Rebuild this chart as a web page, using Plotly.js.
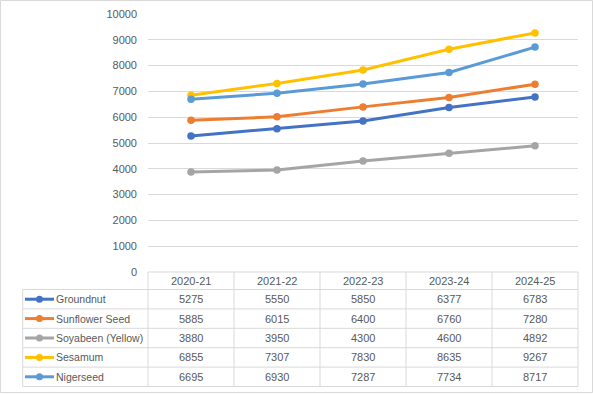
<!DOCTYPE html>
<html><head><meta charset="utf-8">
<script src="https://cdn.plot.ly/plotly-3.0.1.min.js"></script>
<style>html,body{margin:0;padding:0;background:#fff;}</style>
</head><body><div id="chart" style="width:593px;height:394px;"></div>
<script>
const years = ["2020-21","2021-22","2022-23","2023-24","2024-25"];
const seriesNames = ["Groundnut","Sunflower Seed","Soyabeen (Yellow)","Sesamum","Nigerseed"];
const groundnut = [5275,5550,5850,6377,6783];
const sunflower = [5885,6015,6400,6760,7280];
const soyabeen = [3880,3950,4300,4600,4892];
const sesamum = [6855,7307,7830,8635,9267];
const nigerseed = [6695,6930,7287,7734,8717];
const seriesValues = [groundnut,sunflower,soyabeen,sesamum,nigerseed];
const colors = ["#4472C4","#ED7D31","#A5A5A5","#FFC000","#5B9BD5"];

const W=593,H=394,L=148,R=15,T=14,B=122;
const pw=W-L-R, ph=H-T-B;
const fx=p=>(p-L)/pw, fy=p=>(H-B-p)/ph;
const FONT="Liberation Sans, Arial, sans-serif", TXT="#595959", GRID="#d9d9d9";

const traces = seriesNames.map((n,i)=>({
  type:"scatter", mode:"lines+markers", name:n, x:years, y:seriesValues[i],
  line:{color:colors[i],width:3}, marker:{color:colors[i],size:7.5}, showlegend:false
}));

const shapes=[], annotations=[];
const line=(x0,y0,x1,y1,c,w)=>shapes.push({type:"line",xref:"paper",yref:"paper",x0:fx(x0),y0:fy(y0),x1:fx(x1),y1:fy(y1),line:{color:c||GRID,width:w||1}});
// outer chart border
shapes.push({type:"rect",xref:"paper",yref:"paper",x0:fx(0.5),y0:fy(0.5),x1:fx(592.5),y1:fy(392.5),line:{color:GRID,width:1}});
// table geometry
const tLeft=22.7, headTop=272, headBot=289.5, rowH=19.4;
const colW=pw/years.length;
const rowsBot = headBot + rowH*seriesNames.length;
line(L,headTop,L+pw,headTop);
for(let r=0;r<=seriesNames.length;r++){ const y=headBot+r*rowH; line(tLeft,y,L+pw,y); }
line(tLeft,headBot,tLeft,rowsBot);
for(let c=0;c<=years.length;c++){ const x=L+c*colW; line(x,headTop,x,rowsBot); }
// header
years.forEach((yr,c)=>annotations.push({xref:"paper",yref:"paper",x:fx(L+(c+0.5)*colW),y:fy((headTop+headBot)/2),text:yr,showarrow:false,font:{family:FONT,size:11,color:TXT},xanchor:"center",yanchor:"middle"}));
// rows
seriesNames.forEach((n,r)=>{
  const yc=headBot+(r+0.5)*rowH;
  shapes.push({type:"line",xref:"paper",yref:"paper",x0:fx(25),x1:fx(54),y0:fy(yc),y1:fy(yc),line:{color:colors[r],width:3}});
  shapes.push({type:"circle",xref:"paper",yref:"paper",xsizemode:"pixel",ysizemode:"pixel",xanchor:fx(39.5),yanchor:fy(yc),x0:-3.5,x1:3.5,y0:-3.5,y1:3.5,fillcolor:colors[r],line:{color:colors[r],width:0}});
  annotations.push({xref:"paper",yref:"paper",x:fx(54),y:fy(yc),text:n,showarrow:false,font:{family:FONT,size:10.5,color:TXT},xanchor:"left",yanchor:"middle"});
  seriesValues[r].forEach((v,c)=>annotations.push({xref:"paper",yref:"paper",x:fx(L+(c+0.5)*colW),y:fy(yc),text:String(v),showarrow:false,font:{family:FONT,size:11,color:TXT},xanchor:"center",yanchor:"middle"}));
});

const layout={
  width:W,height:H,margin:{l:L,r:R,t:T,b:B},paper_bgcolor:"#fff",plot_bgcolor:"#fff",
  xaxis:{type:"category",range:[-0.5,years.length-0.5],showticklabels:false,showgrid:false,zeroline:false,showline:false,fixedrange:true},
  yaxis:{range:[0,10000],dtick:1000,tick0:0,tickformat:"d",showgrid:true,gridcolor:GRID,gridwidth:1,zeroline:false,showline:false,
    tickfont:{family:FONT,size:11,color:TXT},ticklabelstandoff:10,fixedrange:true},
  shapes:shapes,annotations:annotations,showlegend:false
};
Plotly.newPlot("chart",traces,layout,{displayModeBar:false,staticPlot:true});
</script></body></html>
